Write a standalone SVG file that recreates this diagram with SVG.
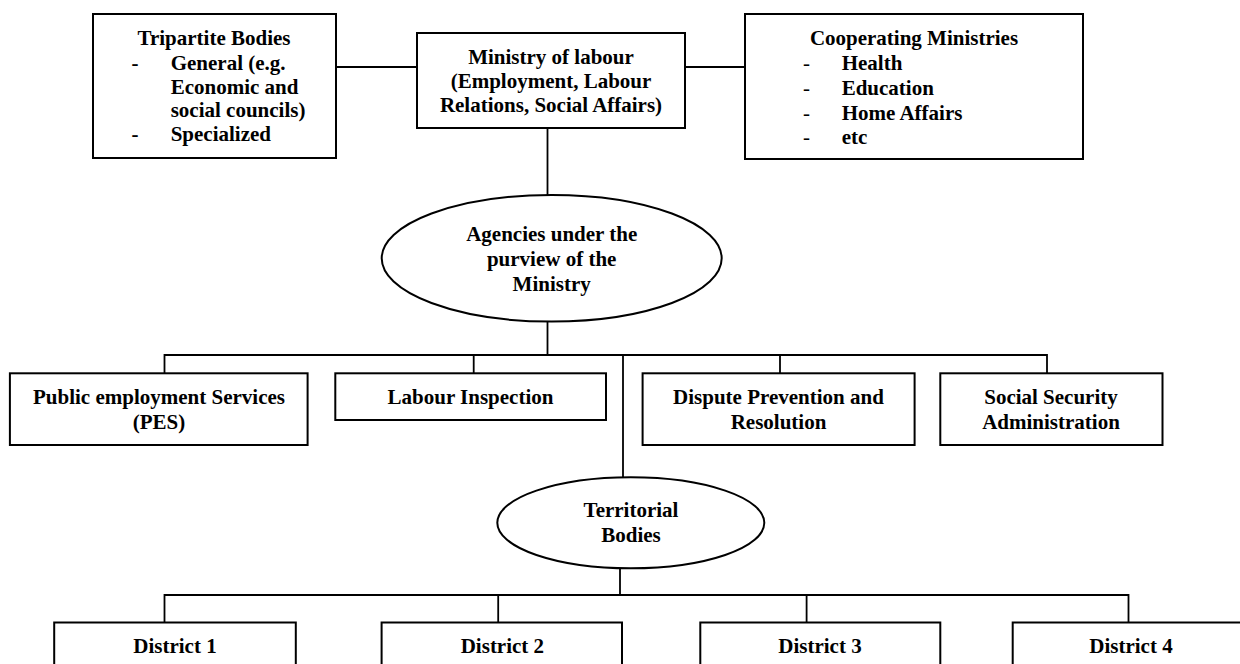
<svg xmlns="http://www.w3.org/2000/svg" width="1240" height="664" viewBox="0 0 1240 664">
<style>
.box{fill:#fff;stroke:#000;stroke-width:2}
.ell{fill:#fff;stroke:#000;stroke-width:2}
.ln{fill:none;stroke:#000;stroke-width:1.8}
text{font-size:21px;font-weight:bold;fill:#000}
.c{text-anchor:middle}
.thin{font-weight:normal}
</style>
<rect width="1240" height="664" fill="#fff"/>
<g id="connectors">
<line class="ln" x1="336" y1="67" x2="417" y2="67"/>
<line class="ln" x1="685" y1="67" x2="745" y2="67"/>
<line class="ln" x1="547.5" y1="128" x2="547.5" y2="195"/>
<line class="ln" x1="547.5" y1="321.5" x2="547.5" y2="355"/>
<polyline class="ln" points="164.5,373.3 164.5,355 1047,355 1047,373.3"/>
<line class="ln" x1="473.7" y1="355" x2="473.7" y2="373.3"/>
<line class="ln" x1="780" y1="355" x2="780" y2="373.3"/>
<line class="ln" x1="623" y1="355" x2="623" y2="477.3"/>
<line class="ln" x1="620" y1="568.3" x2="620" y2="595"/>
<polyline class="ln" points="164.5,622.5 164.5,595 1128.5,595 1128.5,622.5"/>
<line class="ln" x1="498.2" y1="595" x2="498.2" y2="622.5"/>
<line class="ln" x1="806.6" y1="595" x2="806.6" y2="622.5"/>
</g>
<g font-family="Liberation Serif, Tinos, Times New Roman, DejaVu Serif, serif">
<g id="tripartite">
<rect class="box" x="93" y="14" width="243" height="144"/>
<text class="c" x="214" y="45">Tripartite Bodies</text>
<text x="131.5" y="70">-</text>
<text x="170.7" y="70">General (e.g.</text>
<text x="170.7" y="94">Economic and</text>
<text x="170.7" y="117">social councils)</text>
<text x="131.5" y="141">-</text>
<text x="170.7" y="141">Specialized</text>
</g>
<g id="ministry">
<rect class="box" x="417" y="33" width="268" height="95"/>
<text class="c" x="551" y="64">Ministry of labour</text>
<text class="c" x="551" y="88">(Employment, Labour</text>
<text class="c" x="551" y="112">Relations, Social Affairs)</text>
</g>
<g id="cooperating">
<rect class="box" x="745" y="14" width="338" height="145"/>
<text class="c" x="914" y="45">Cooperating Ministries</text>
<text class="thin" x="803" y="70">-</text>
<text x="841.7" y="70">Health</text>
<text class="thin" x="803" y="95">-</text>
<text x="841.7" y="95">Education</text>
<text class="thin" x="803" y="120">-</text>
<text x="841.7" y="120">Home Affairs</text>
<text class="thin" x="803" y="144">-</text>
<text x="841.7" y="144">etc</text>
</g>
<g id="agencies">
<ellipse class="ell" cx="551.7" cy="258.3" rx="170" ry="63.3"/>
<text class="c" x="551.7" y="241">Agencies under the</text>
<text class="c" x="551.7" y="266">purview of the</text>
<text class="c" x="551.7" y="291">Ministry</text>
</g>
<g id="pes">
<rect class="box" x="9.9" y="373.3" width="297.7" height="71.7"/>
<text class="c" x="159" y="404">Public employment Services</text>
<text class="c" x="159" y="429">(PES)</text>
</g>
<g id="labour-inspection">
<rect class="box" x="335.3" y="373.3" width="270.7" height="46.7"/>
<text class="c" x="470.5" y="404">Labour Inspection</text>
</g>
<g id="dispute">
<rect class="box" x="642.6" y="373.3" width="272" height="71.7"/>
<text class="c" x="778.5" y="404">Dispute Prevention and</text>
<text class="c" x="778.5" y="429">Resolution</text>
</g>
<g id="social-security">
<rect class="box" x="940.3" y="373.3" width="222.2" height="71.7"/>
<text class="c" x="1051" y="404">Social Security</text>
<text class="c" x="1051" y="429">Administration</text>
</g>
<g id="territorial">
<ellipse class="ell" cx="630.8" cy="522.8" rx="133.5" ry="45.5"/>
<text class="c" x="631" y="516.7">Territorial</text>
<text class="c" x="631" y="542">Bodies</text>
</g>
<g id="district1">
<rect class="box" x="54.2" y="622.5" width="241.6" height="60"/>
<text class="c" x="175" y="653.3">District 1</text>
</g>
<g id="district2">
<rect class="box" x="381.6" y="622.5" width="240.4" height="60"/>
<text class="c" x="502.4" y="653.3">District 2</text>
</g>
<g id="district3">
<rect class="box" x="700.3" y="622.5" width="240" height="60"/>
<text class="c" x="820" y="653.3">District 3</text>
</g>
<g id="district4">
<rect class="box" x="1012.7" y="622.5" width="240" height="60"/>
<text class="c" x="1131" y="653.3">District 4</text>
</g>
</g>
</svg>
